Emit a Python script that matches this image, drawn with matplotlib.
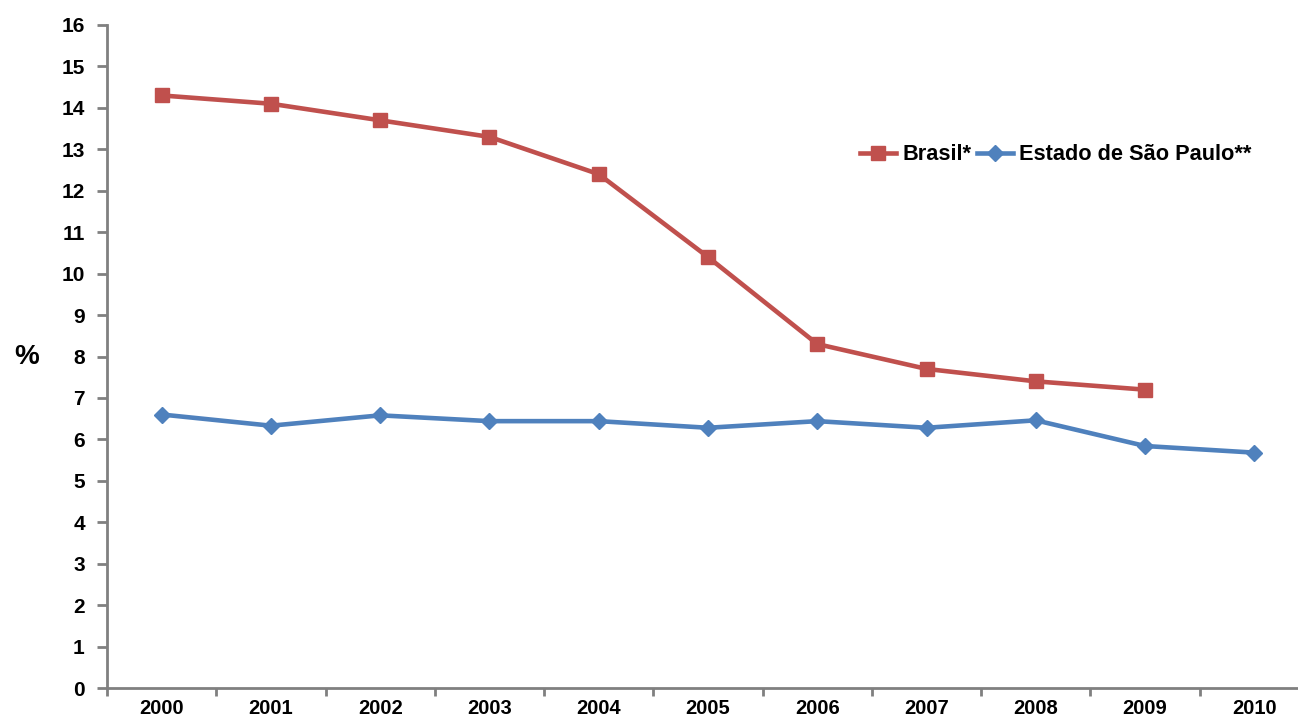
import matplotlib
matplotlib.use("Agg")
import matplotlib.pyplot as plt
import numpy as np

years = ["2000", "2001", "2002", "2003", "2004", "2005", "2006", "2007", "2008", "2009", "2010"]
brasil = [14.3, 14.1, 13.7, 13.3, 12.4, 10.4, 8.3, 7.7, 7.4, 7.2]
sao_paulo = [6.6, 6.33, 6.58, 6.44, 6.44, 6.28, 6.44, 6.28, 6.46, 5.84, 5.68]
yticks = list(range(0, 17))

plt.rcParams['font.family'] = ['Liberation Sans', 'DejaVu Sans']
plt.rcParams['font.weight'] = 'bold'

W, H = 1298, 722
fig = plt.figure(figsize=(W / 100, H / 100), dpi=100)
left, right, top, bottom = 107, 1309, 25, 688
ax = fig.add_axes([left / W, 1 - bottom / H, (right - left) / W, (bottom - top) / H])

red = "#C0504D"
blue = "#4F81BD"
x_b = np.arange(len(brasil))
x_s = np.arange(len(sao_paulo))
ax.plot(x_b, brasil, color=red, lw=3.3, marker="s", ms=10, label="Brasil*", zorder=3)
ax.plot(x_s, sao_paulo, color=blue, lw=3.3, marker="D", ms=8, label="Estado de São Paulo**", zorder=3)

ax.set_xlim(-0.5, len(years) - 0.5)
ax.set_ylim(0, 16)
ax.set_yticks(yticks)
ax.set_yticklabels([str(t) for t in yticks], fontsize=15, fontweight='bold')
ax.set_xticks(np.arange(len(years)))
ax.set_xticklabels(years, fontsize=14.5, fontweight='bold')
ax.set_xticks(np.arange(len(years) + 1) - 0.5, minor=True)
ax.tick_params(axis='x', which='major', length=0, pad=8)
ax.tick_params(axis='x', which='minor', length=6, width=2, color="#808080", direction='out')
ax.tick_params(axis='y', which='major', length=7, width=2, color="#808080", direction='out', pad=9)

for s in ["top", "right"]:
    ax.spines[s].set_visible(False)
for s in ["left", "bottom"]:
    ax.spines[s].set_color("#808080")
    ax.spines[s].set_linewidth(2)

fig.text(27 / W, 1 - 357 / H, "%", fontsize=20, fontweight='bold', ha='center', va='center')

ax.legend(loc='center left', bbox_to_anchor=(860 / W, 1 - 155 / H), bbox_transform=fig.transFigure,
          ncol=2, frameon=False, handlelength=1.65, handletextpad=0.3,
          columnspacing=0.25, borderaxespad=0, borderpad=0,
          prop={'weight': 'bold', 'size': 15.7})

fig.savefig("out.png", dpi=100)
